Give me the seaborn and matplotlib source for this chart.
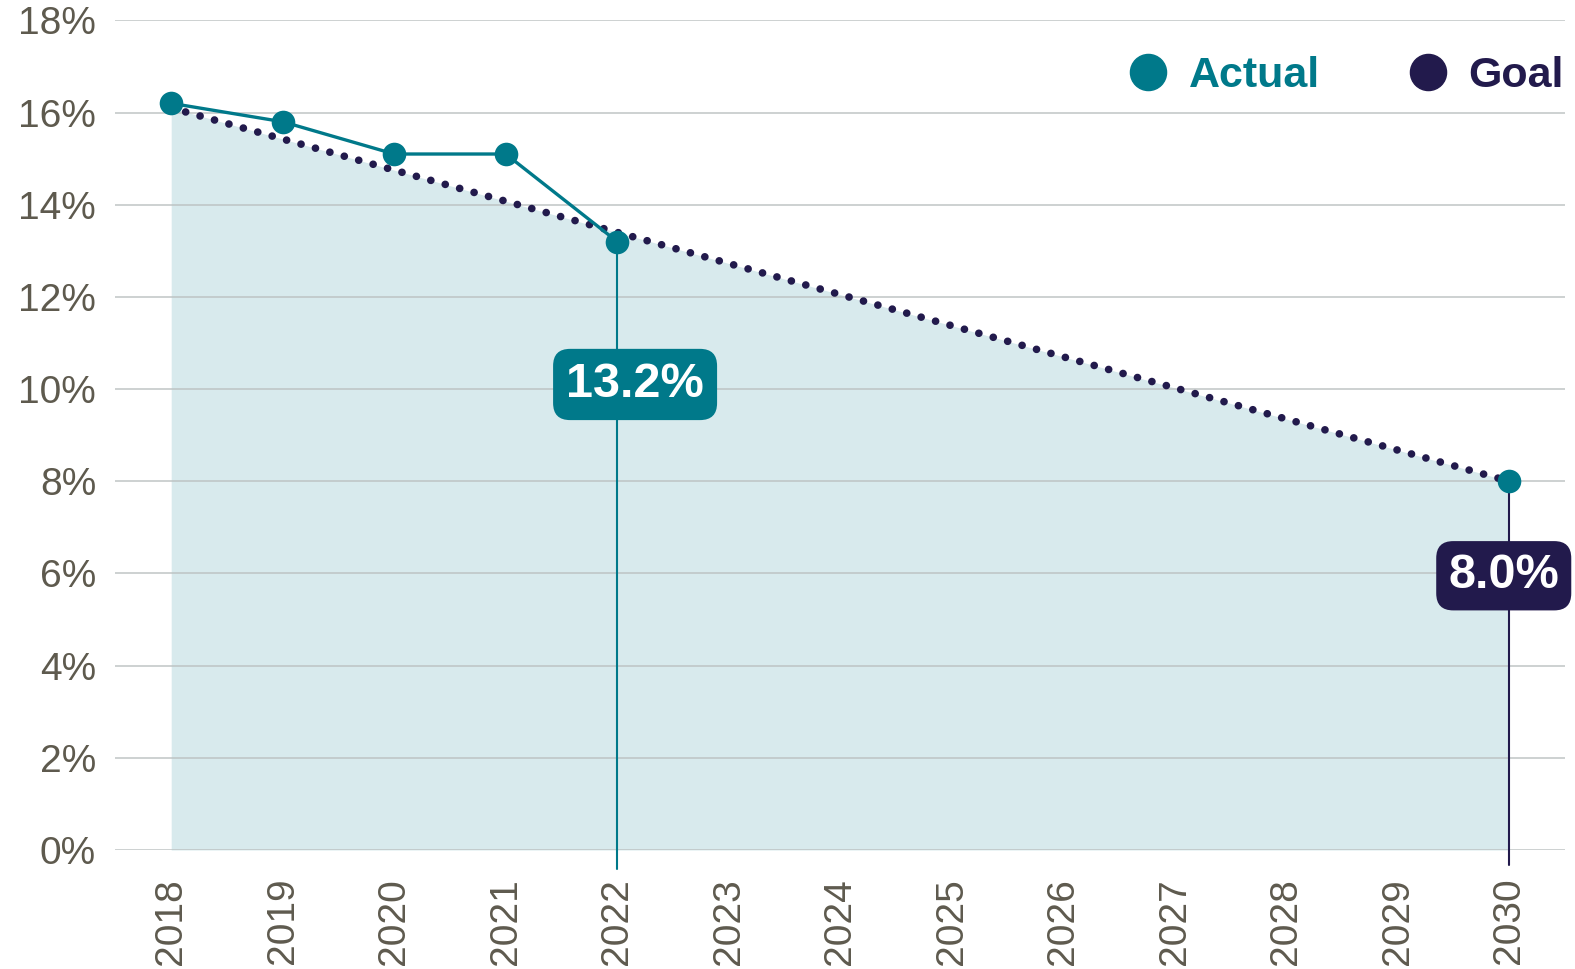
import matplotlib
matplotlib.use("Agg")
import matplotlib.pyplot as plt
from matplotlib.lines import Line2D
import numpy as np
import pandas as pd
import seaborn as sns

# data
actual_years = [2018, 2019, 2020, 2021, 2022]
actual_values = [16.2, 15.8, 15.1, 15.1, 13.2]
goal_years = [2018, 2030]
goal_values = [16.1, 8.0]
tick_years = list(range(2018, 2031))
y_ticks = [0, 2, 4, 6, 8, 10, 12, 14, 16, 18]

teal = "#00798a"
navy = "#221a4c"
fill_col = "#d8eaed"
grey_txt = "#5e5a4e"

sns.set_theme(style="white")
plt.rcParams['font.family'] = ['Liberation Sans', 'DejaVu Sans']

fig = plt.figure(figsize=(15.75, 9.69), dpi=100)
ax = fig.add_axes([0.0733, 0.1228, 0.9204, 0.8562])

actual = pd.DataFrame({'Year': actual_years, 'Value': actual_values})
goal = pd.DataFrame({'Year': goal_years, 'Value': goal_values})

# shaded area under the goal path
ax.fill_between(goal['Year'], goal['Value'], 0, color=fill_col, lw=0, zorder=1)

# gridlines
for v in y_ticks:
    ax.axhline(v, color="#bcc2c2", lw=1.4, alpha=0.75, zorder=2)

# goal dotted line
ax.plot(goal['Year'], goal['Value'], color=navy, lw=5.5,
        linestyle=(0, (0.01, 1.95)), dash_capstyle='round', zorder=3)

# actual line
sns.lineplot(data=actual, x='Year', y='Value', color=teal, lw=2.4,
             marker='o', markersize=17, markeredgewidth=0, ax=ax, zorder=4)

# goal end point
ax.plot(goal_years[-1], goal_values[-1], 'o', color=teal, markersize=17,
        markeredgewidth=0, zorder=5)

# vertical drop lines
ax.plot([actual_years[-1]] * 2, [actual_values[-1], -0.42], color=teal,
        lw=1.5, clip_on=False, zorder=3)
ax.plot([goal_years[-1]] * 2, [goal_values[-1], -0.32], color=navy,
        lw=1.5, clip_on=False, zorder=3)

# value callouts
ax.text(actual_years[-1] + 0.16, 10.1, f"{actual_values[-1]:.1f}%", color='white',
        fontsize=35, fontweight='bold', ha='center', va='center', zorder=6,
        bbox=dict(boxstyle='round,pad=0.27,rounding_size=0.35', fc=teal, ec='none'))
ax.text(goal_years[-1] - 0.05, 5.95, f"{goal_values[-1]:.1f}%", color='white',
        fontsize=35, fontweight='bold', ha='center', va='center', zorder=6,
        clip_on=False,
        bbox=dict(boxstyle='round,pad=0.25,rounding_size=0.35', fc=navy, ec='none'))

# legend
handles = [Line2D([], [], marker='o', color=teal, lw=0, markersize=26),
           Line2D([], [], marker='o', color=navy, lw=0, markersize=26)]
leg = ax.legend(handles, ['Actual', 'Goal'], loc='upper right', ncol=2,
                frameon=False, bbox_to_anchor=(1.026, 1.004), handletextpad=0.35,
                columnspacing=1.9, handlelength=1.2,
                prop={'size': 31, 'weight': 'bold'})
for t, c in zip(leg.get_texts(), [teal, navy]):
    t.set_color(c)

ax.set_xlim(2017.5, 2030.5)
ax.set_ylim(0, 18)
ax.set_xticks(tick_years)
ax.set_xticklabels([str(y) for y in tick_years], rotation=90)
ax.set_yticks(y_ticks)
ax.set_yticklabels([f"{v}%" for v in y_ticks])
ax.tick_params(axis='both', length=0, labelsize=28, labelcolor=grey_txt)
ax.tick_params(axis='x', pad=20)
ax.tick_params(axis='y', pad=14)
ax.set_xlabel('')
ax.set_ylabel('')
sns.despine(ax=ax, left=True, bottom=True)

fig.savefig("out.png", dpi=100)
